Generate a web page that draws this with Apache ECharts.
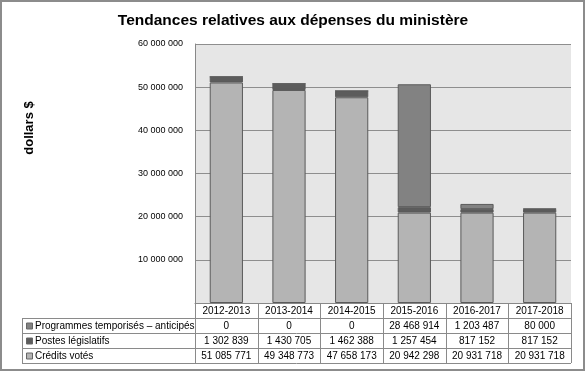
<!DOCTYPE html>
<html><head><meta charset="utf-8">
<script src="https://cdn.jsdelivr.net/npm/echarts@6/dist/echarts.min.js"></script>
<style>html,body{margin:0;padding:0;background:#fff}#c{width:586px;height:372px}</style>
</head><body><div id="c"></div>
<script>
var categories = ['2012-2013','2013-2014','2014-2015','2015-2016','2016-2017','2017-2018'];
var seriesNames = ['Programmes temporisés – anticipés','Postes législatifs','Crédits votés'];
var programmes = [0, 0, 0, 28468914, 1203487, 80000];
var postes = [1302839, 1430705, 1462388, 1257454, 817152, 817152];
var credits = [51085771, 49348773, 47658173, 20942298, 20931718, 20931718];
var yTicks = [0, 10000000, 20000000, 30000000, 40000000, 50000000, 60000000];
var colors = {prog:'#828282', postes:'#5c5c5c', credits:'#b4b4b4'};

function fmt(v){ return String(v).replace(/\B(?=(\d{3})+(?!\d))/g, ' '); }

var chart = echarts.init(document.getElementById('c'), null, {renderer:'canvas'});
var FONT = 'Liberation Sans, Arial, sans-serif';
var gridL = 195, gridT = 44, gridW = 376, gridH = 259;

var barStyle = function(c){ return {color:c, borderColor:'#5a5a5a', borderWidth:1}; };
chart.setOption({
  animation:false,
  title:{text:'Tendances relatives aux dépenses du ministère', left:'center', top:8,
    textStyle:{fontFamily:FONT, fontSize:15.5, fontWeight:'bold', color:'#000'}},
  grid:{left:gridL, top:gridT, width:gridW, height:gridH, show:true, backgroundColor:'#e6e6e6', borderWidth:0},
  xAxis:{type:'category', data:categories,
    axisLine:{show:true, lineStyle:{color:'#888', width:1}},
    axisTick:{show:false},
    axisLabel:{fontFamily:FONT, fontSize:10, color:'#000', margin:3, interval:0}},
  yAxis:{type:'value', min:yTicks[0], max:yTicks[yTicks.length-1], interval:yTicks[1]-yTicks[0],
    axisLine:{show:true, lineStyle:{color:'#888'}},
    axisTick:{show:false},
    splitLine:{lineStyle:{color:'#8e8e8e', width:1}},
    axisLabel:{fontFamily:FONT, fontSize:9, color:'#000', margin:12,
      formatter:function(v){ return v===0 ? '' : fmt(v); }}},
  series:[
    {name:seriesNames[2], type:'bar', stack:'s', data:credits, barWidth:'53%', itemStyle:barStyle(colors.credits)},
    {name:seriesNames[1], type:'bar', stack:'s', data:postes, barWidth:'53%', itemStyle:barStyle(colors.postes)},
    {name:seriesNames[0], type:'bar', stack:'s', data:programmes, barWidth:'53%', itemStyle:barStyle(colors.prog)}
  ]
});

// data table drawn from the same arrays
var rows = [
  {name:seriesNames[0], vals:programmes, color:colors.prog},
  {name:seriesNames[1], vals:postes, color:colors.postes},
  {name:seriesNames[2], vals:credits, color:colors.credits}
];
var g = [];
var lc = '#8a8a8a';
var hdrTop = gridT + gridH, hdrBot = 318, rowH = 15, tableL = 22, tableR = gridL + gridW;
var colW = gridW / categories.length;
for (var i = 0; i <= categories.length; i++) {
  var x = Math.round(gridL + i*colW) + 0.5;
  g.push({type:'line', shape:{x1:x, y1:hdrTop, x2:x, y2:hdrBot + rowH*rows.length}, style:{stroke:lc, lineWidth:1}});
}
for (var r = 0; r <= rows.length; r++) {
  var y = hdrBot + r*rowH + 0.5;
  g.push({type:'line', shape:{x1:tableL, y1:y, x2:tableR, y2:y}, style:{stroke:lc, lineWidth:1}});
}
g.push({type:'line', shape:{x1:tableL+0.5, y1:hdrBot, x2:tableL+0.5, y2:hdrBot + rowH*rows.length}, style:{stroke:lc, lineWidth:1}});
rows.forEach(function(row, r){
  var cy = hdrBot + r*rowH + rowH/2 + 1;
  g.push({type:'rect', shape:{x:tableL+4.5, y:cy-3.5, width:6, height:6}, style:{fill:row.color, stroke:'#666', lineWidth:1}});
  g.push({type:'text', x:tableL+13, y:cy, style:{text:row.name, font:'10px '+FONT, fill:'#000', verticalAlign:'middle', align:'left'}});
  row.vals.forEach(function(v, i){
    var cx = chart.convertToPixel({xAxisIndex:0}, categories[i]);
    g.push({type:'text', x:cx, y:cy, style:{text:fmt(v), font:'10px '+FONT, fill:'#000', verticalAlign:'middle', align:'center'}});
  });
});
// y axis title
g.push({type:'text', x:29, y:128, rotation:Math.PI/2,
  style:{text:'dollars $', font:'bold 13px '+FONT, fill:'#000', align:'center', verticalAlign:'middle'}});
// outer frame
g.push({type:'rect', shape:{x:1, y:1, width:583, height:369}, style:{fill:'none', stroke:'#8c8c8c', lineWidth:2}});
chart.setOption({graphic:g});
</script></body></html>
